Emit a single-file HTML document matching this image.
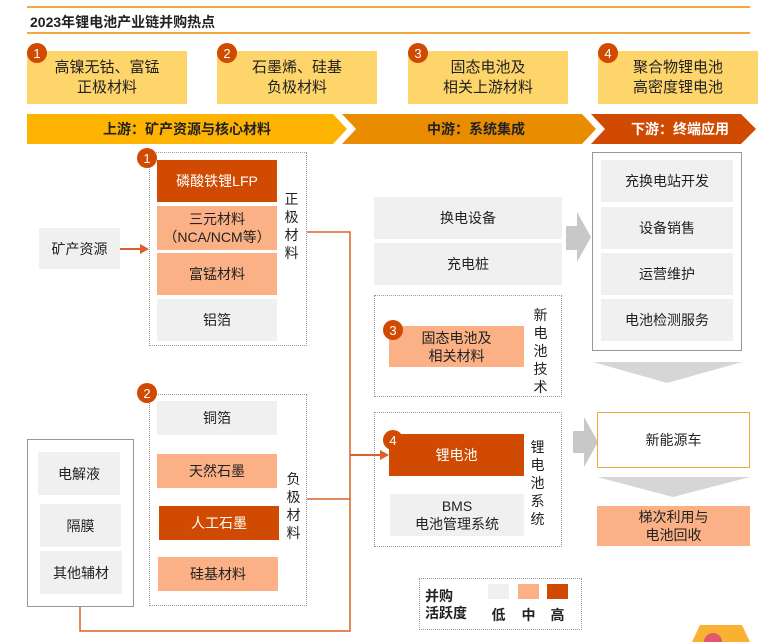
<!DOCTYPE html>
<html><head><meta charset="utf-8"><style>
body{margin:0;width:765px;height:642px;background:#fff;position:relative;overflow:hidden;font-family:"Liberation Sans","Noto Sans CJK SC",sans-serif;color:#222}
div{position:absolute;box-sizing:border-box}
.b{display:flex;align-items:center;justify-content:center;text-align:center;font-size:14px;line-height:18px}
.g{background:#f0f0f0}.p{background:#fbb085}.d{background:#d04a02;color:#fff}.y{background:#fed56a}
.dot{border:1.5px dotted #999}
.c{width:20px;height:20px;border-radius:50%;background:#d04a02;color:#fff;font-size:13px;display:flex;align-items:center;justify-content:center}
.v{font-size:14px;line-height:18px;width:15px;text-align:center}
</style></head><body>
<div style="left:27px;top:6px;width:723px;height:2px;background:#f3a83b"></div>
<div style="left:30px;top:12px;font-size:14px;font-weight:bold;line-height:20px">2023年锂电池产业链并购热点</div>
<div style="left:27px;top:32px;width:723px;height:2px;background:#f3a83b"></div>

<div class="b y" style="left:27px;top:51px;width:160px;height:53px;font-size:15px;line-height:20px">高镍无钴、富锰<br>正极材料</div>
<div class="b y" style="left:217px;top:51px;width:160px;height:53px;font-size:15px;line-height:20px">石墨烯、硅基<br>负极材料</div>
<div class="b y" style="left:408px;top:51px;width:160px;height:53px;font-size:15px;line-height:20px">固态电池及<br>相关上游材料</div>
<div class="b y" style="left:598px;top:51px;width:160px;height:53px;font-size:15px;line-height:20px">聚合物锂电池<br>高密度锂电池</div>
<div class="c" style="left:27px;top:43px">1</div>
<div class="c" style="left:217px;top:43px">2</div>
<div class="c" style="left:408px;top:43px">3</div>
<div class="c" style="left:598px;top:43px">4</div>

<svg style="position:absolute;left:0;top:0" width="765" height="642">
<polygon points="27,114 333,114 347,129 333,144 27,144" fill="#fdb300"/>
<polygon points="342,114 582,114 596,129 582,144 342,144 356,129" fill="#ea8c00"/>
<polygon points="591,114 741,114 756,129 741,144 591,144 605,129" fill="#d04a02"/>
<polygon points="566,226 577,226 577,212 591,237 577,262 577,250 566,250" fill="#c8c8c8"/>
<polygon points="593,362 742,362 667,383" fill="#d6d6d6"/>
<polygon points="573,431 584,431 584,417 598,442 584,467 584,453 573,453" fill="#c8c8c8"/>
<polygon points="597,477 750,477 673,497" fill="#d6d6d6"/>
<polyline points="307,232 350,232 350,631 80,631 80,606" fill="none" stroke="#d9622b" stroke-width="1.5"/>
<polyline points="307,499 350,499" fill="none" stroke="#d9622b" stroke-width="1.5"/>
<line x1="350" y1="455" x2="382" y2="455" stroke="#d9622b" stroke-width="2"/>
<polygon points="389,455 380,450 380,460" fill="#d9622b"/>
<line x1="119" y1="249" x2="141" y2="249" stroke="#d9622b" stroke-width="2"/>
<polygon points="149,249 140,244 140,254" fill="#d9622b"/>
<polygon points="700,625 742,625 750,642 692,642" fill="#f8b133"/>
<circle cx="713" cy="642" r="9" fill="#e05a6a"/>
</svg>
<div class="b" style="left:27px;top:114px;width:320px;height:30px;font-weight:bold">上游：矿产资源与核心材料</div>
<div class="b" style="left:356px;top:114px;width:240px;height:30px;font-weight:bold">中游：系统集成</div>
<div class="b" style="left:605px;top:114px;width:150px;height:30px;font-weight:bold;color:#fff">下游：终端应用</div>

<div class="b g" style="left:39px;top:228px;width:81px;height:41px">矿产资源</div>

<div class="dot" style="left:149px;top:152px;width:158px;height:194px"></div>
<div class="b d" style="left:157px;top:160px;width:120px;height:42px">磷酸铁锂LFP</div>
<div class="b p" style="left:157px;top:206px;width:120px;height:44px">三元材料<br>（NCA/NCM等）</div>
<div class="b p" style="left:157px;top:253px;width:120px;height:42px">富锰材料</div>
<div class="b g" style="left:157px;top:299px;width:120px;height:42px">铝箔</div>
<div class="v" style="left:284px;top:190px">正<br>极<br>材<br>料</div>
<div class="c" style="left:137px;top:148px">1</div>

<div class="dot" style="left:149px;top:394px;width:158px;height:212px"></div>
<div class="b g" style="left:157px;top:401px;width:120px;height:34px">铜箔</div>
<div class="b p" style="left:157px;top:454px;width:120px;height:34px">天然石墨</div>
<div class="b d" style="left:159px;top:506px;width:120px;height:34px">人工石墨</div>
<div class="b p" style="left:158px;top:557px;width:120px;height:34px">硅基材料</div>
<div class="v" style="left:286px;top:470px">负<br>极<br>材<br>料</div>
<div class="c" style="left:137px;top:383px">2</div>

<div style="left:27px;top:439px;width:107px;height:168px;border:1.5px solid #999"></div>
<div class="b g" style="left:38px;top:452px;width:82px;height:43px">电解液</div>
<div class="b g" style="left:40px;top:504px;width:81px;height:43px">隔膜</div>
<div class="b g" style="left:40px;top:551px;width:82px;height:43px">其他辅材</div>

<div class="b g" style="left:374px;top:197px;width:188px;height:42px">换电设备</div>
<div class="b g" style="left:374px;top:243px;width:188px;height:42px">充电桩</div>
<div class="dot" style="left:374px;top:295px;width:188px;height:102px"></div>
<div class="b p" style="left:389px;top:326px;width:135px;height:41px">固态电池及<br>相关材料</div>
<div class="c" style="left:383px;top:320px">3</div>
<div class="v" style="left:533px;top:306px">新<br>电<br>池<br>技<br>术</div>

<div class="dot" style="left:374px;top:412px;width:188px;height:135px"></div>
<div class="b d" style="left:389px;top:434px;width:135px;height:42px">锂电池</div>
<div class="c" style="left:383px;top:430px">4</div>
<div class="b g" style="left:390px;top:494px;width:134px;height:42px">BMS<br>电池管理系统</div>
<div class="v" style="left:530px;top:438px">锂<br>电<br>池<br>系<br>统</div>

<div style="left:592px;top:152px;width:150px;height:199px;border:1.5px solid #999"></div>
<div class="b g" style="left:601px;top:160px;width:132px;height:42px">充换电站开发</div>
<div class="b g" style="left:601px;top:207px;width:132px;height:42px">设备销售</div>
<div class="b g" style="left:601px;top:253px;width:132px;height:42px">运营维护</div>
<div class="b g" style="left:601px;top:299px;width:132px;height:42px">电池检测服务</div>

<div class="b" style="left:597px;top:412px;width:153px;height:56px;border:1.5px solid #f3a83b">新能源车</div>
<div class="b p" style="left:597px;top:506px;width:153px;height:40px">梯次利用与<br>电池回收</div>

<div class="dot" style="left:419px;top:578px;width:163px;height:52px"></div>
<div style="left:425px;top:588px;font-size:14px;font-weight:bold;line-height:17px">并购<br>活跃度</div>
<div class="g" style="left:488px;top:584px;width:21px;height:15px"></div>
<div class="p" style="left:518px;top:584px;width:21px;height:15px"></div>
<div class="d" style="left:547px;top:584px;width:21px;height:15px"></div>
<div style="left:488px;top:605px;width:21px;text-align:center;font-size:14px;font-weight:bold">低</div>
<div style="left:518px;top:605px;width:21px;text-align:center;font-size:14px;font-weight:bold">中</div>
<div style="left:547px;top:605px;width:21px;text-align:center;font-size:14px;font-weight:bold">高</div>
</body></html>
